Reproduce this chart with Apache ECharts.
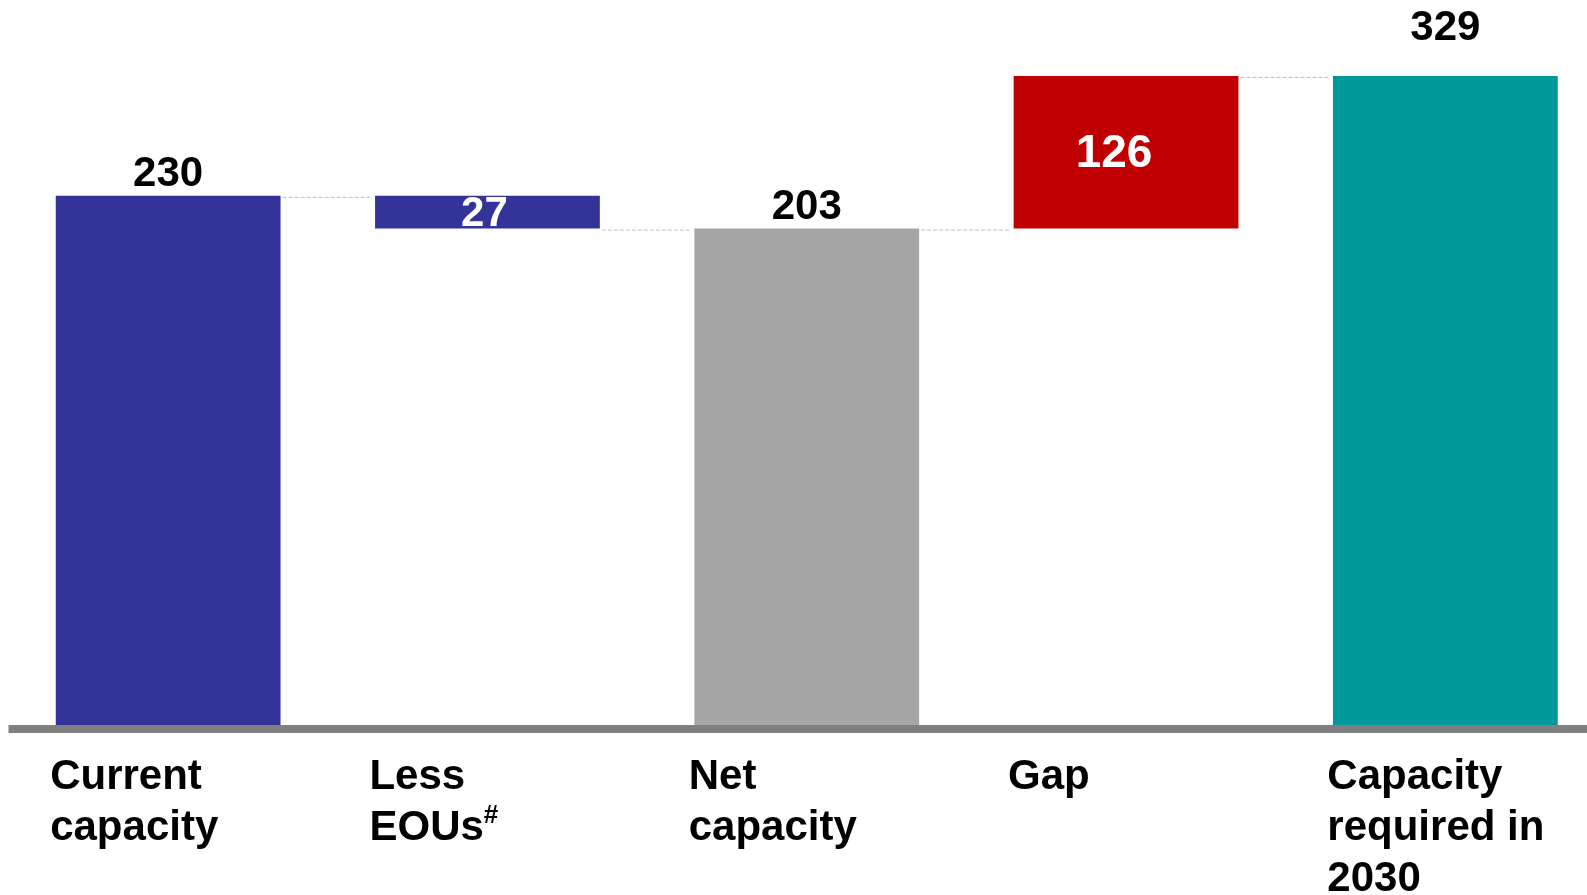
<!DOCTYPE html>
<html>
<head>
<meta charset="utf-8">
<script src="https://cdn.jsdelivr.net/npm/echarts@6/dist/echarts.min.js"></script>
<style>
html, body { margin: 0; padding: 0; background: #ffffff; }
#chart { width: 1587px; height: 895px; }
</style>
</head>
<body>
<div id="chart"></div>
<script>
// ---- data ----
const categories = ['Current\ncapacity', 'Less\nEOUs#', 'Net\ncapacity', 'Gap', 'Capacity\nrequired in\n2030'];
const values = [230, 27, 203, 126, 329];
const kinds = ['total', 'decrease', 'total', 'increase', 'total'];

// ---- style ----
const barColors = ['#333399', '#333399', '#A6A6A6', '#C00000', '#009999'];
const labelFontSizes = [42, 42, 42, 46, 42];
const labelLift = [0, 0, 0, 0, 26];
const labelShiftX = [0, -3, 0, -12, 0];
const FONT = '"Liberation Sans", Arial, Helvetica, sans-serif';
const Y_MIN = -210, Y_MAX = 390;

// waterfall ranges derived from the values
const lows = [], highs = [], ends = [];
let running = 0;
values.forEach((v, i) => {
  if (kinds[i] === 'total') { lows.push(Y_MIN); highs.push(v); running = v; }
  else if (kinds[i] === 'decrease') { highs.push(running); lows.push(running - v); running -= v; }
  else { lows.push(running); highs.push(running + v); running += v; }
  ends.push(running);
});
const seriesData = categories.map((c, i) => [i, lows[i], highs[i]]);

const chart = echarts.init(document.getElementById('chart'), null, { renderer: 'canvas' });

function renderItem(params, api) {
  const i = api.value(0);
  const band = api.size([1, 0])[0];
  const bw = band * 0.704;
  const pTop = api.coord([i, api.value(2)]);
  const pBot = api.coord([i, api.value(1)]);
  const children = [];
  children.push({
    type: 'rect',
    shape: { x: pTop[0] - bw / 2, y: pTop[1], width: bw, height: pBot[1] - pTop[1] },
    style: { fill: barColors[i] }
  });
  // connector to next bar
  if (i < categories.length - 1) {
    const a = api.coord([i, ends[i]]);
    const b = api.coord([i + 1, ends[i]]);
    children.push({
      type: 'line',
      shape: { x1: a[0] + bw / 2 + 2, y1: a[1] + 1.5, x2: b[0] - bw / 2 - 5, y2: a[1] + 1.5 },
      style: { stroke: '#BDBDBD', lineWidth: 1, lineDash: [4, 2] }
    });
  }
  const fs = labelFontSizes[i];
  if (kinds[i] === 'total') {
    children.push({
      type: 'text',
      x: pTop[0] + labelShiftX[i],
      y: pTop[1] - labelLift[i],
      style: {
        text: String(values[i]), fill: '#000000',
        font: 'bold ' + fs + 'px ' + FONT,
        align: 'center', verticalAlign: 'bottom'
      }
    });
  } else {
    children.push({
      type: 'text',
      x: pTop[0] + labelShiftX[i],
      y: (pTop[1] + pBot[1]) / 2 + 2,
      style: {
        text: String(values[i]), fill: '#ffffff',
        font: 'bold ' + fs + 'px ' + FONT,
        align: 'center', verticalAlign: 'middle'
      }
    });
  }
  return { type: 'group', children: children };
}

const option = {
  backgroundColor: '#ffffff',
  animation: false,
  grid: { left: 8.5, right: -18, top: 2, bottom: 166, containLabel: false, outerBoundsMode: 'none' },
  xAxis: {
    type: 'category',
    data: categories,
    z: 5,
    axisLine: { show: true, onZero: false, lineStyle: { color: '#808080', width: 8, cap: 'butt' } },
    axisTick: { show: false },
    splitLine: { show: false },
    axisLabel: {
      interval: 0,
      margin: 23,
      color: '#000000',
      fontFamily: FONT,
      fontWeight: 'bold',
      fontSize: 42,
      lineHeight: 51,
      align: 'left',
      verticalAlign: 'top',
      padding: [0, 0, 0, -118],
      formatter: function (v) { return v.replace('#', '{sup|#}'); },
      rich: {
        sup: { fontFamily: FONT, fontWeight: 'bold', fontSize: 26, color: '#000000', verticalAlign: 'top', lineHeight: 30 }
      }
    }
  },
  yAxis: {
    type: 'value', min: Y_MIN, max: Y_MAX, show: false,
    splitLine: { show: false }
  },
  series: [{
    type: 'custom',
    renderItem: renderItem,
    data: seriesData,
    encode: { x: 0, y: [1, 2] },
    z: 2
  }]
};
chart.setOption(option);
</script>
</body>
</html>
